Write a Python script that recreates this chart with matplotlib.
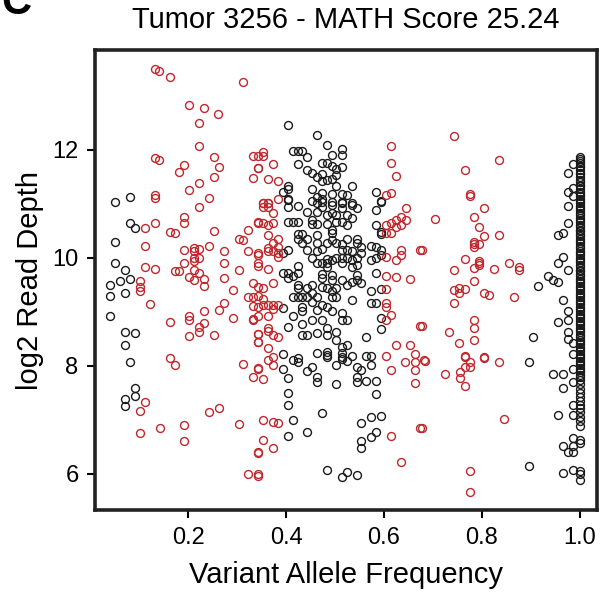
import numpy as np
import matplotlib
matplotlib.use("Agg")
import matplotlib.pyplot as plt

plt.rcParams['font.family'] = ['Liberation Sans', 'DejaVu Sans']

title = "Tumor 3256 - MATH Score 25.24"
x_ticks = [0.2, 0.4, 0.6, 0.8, 1.0]
y_ticks = [6, 8, 10, 12]

# (VAF, log2 depth) -- red points
red_points = [
    (0.133, 13.49), (0.141, 13.46), (0.162, 13.35), (0.312, 13.26), (0.202, 12.84), (0.233, 12.78),
    (0.262, 12.66), (0.222, 12.49), (0.222, 12.08), (0.133, 11.85), (0.141, 11.81), (0.192, 11.73),
    (0.182, 11.59), (0.252, 11.86), (0.263, 11.68), (0.252, 11.49), (0.333, 11.88), (0.342, 11.67),
    (0.333, 11.48), (0.222, 11.39), (0.202, 11.25), (0.242, 11.11), (0.133, 11.17), (0.133, 11.11),
    (0.614, 12.07), (0.614, 11.76), (0.624, 11.52), (0.614, 11.21), (0.604, 11.17), (0.353, 11.96),
    (0.353, 11.89), (0.343, 11.66), (0.373, 11.74), (0.363, 11.46), (0.383, 11.43), (0.383, 11.09),
    (0.353, 11.02), (0.363, 11.02), (0.343, 11.88),
    (0.744, 12.25), (0.835, 11.82), (0.765, 11.62), (0.775, 11.19), (0.775, 11.14),
    (0.133, 10.65), (0.112, 10.55), (0.192, 10.76), (0.192, 10.65), (0.222, 10.95), (0.162, 10.48),
    (0.173, 10.46), (0.252, 10.49), (0.112, 10.22), (0.192, 10.15), (0.212, 10.19), (0.212, 10.13),
    (0.222, 10.17), (0.243, 10.23), (0.212, 9.99), (0.222, 9.99), (0.212, 9.95), (0.192, 9.90),
    (0.112, 9.84), (0.133, 9.79), (0.173, 9.75), (0.182, 9.75), (0.212, 9.77), (0.222, 9.72),
    (0.202, 9.64), (0.212, 9.59), (0.233, 9.61), (0.233, 9.48), (0.101, 9.57), (0.101, 9.46),
    (0.101, 9.38), (0.122, 9.15), (0.273, 10.12), (0.273, 9.90), (0.273, 9.62), (0.303, 10.36),
    (0.312, 10.33), (0.323, 10.52), (0.323, 10.13), (0.303, 9.77), (0.292, 9.40), (0.323, 9.28),
    (0.333, 9.28), (0.333, 9.53), (0.342, 10.67), (0.342, 10.06), (0.342, 9.86), (0.342, 9.09),
    (0.273, 9.16), (0.263, 9.04), (0.233, 9.02), (0.202, 8.93), (0.202, 8.85), (0.162, 8.81),
    (0.233, 8.80), (0.222, 8.72), (0.222, 8.62), (0.202, 8.56), (0.252, 8.58), (0.292, 8.88),
    (0.333, 8.86), (0.342, 8.60), (0.342, 8.45), (0.162, 8.15),
    (0.173, 8.02), (0.112, 7.33), (0.102, 7.17), (0.102, 6.75), (0.142, 6.86), (0.192, 6.91),
    (0.192, 6.61), (0.242, 7.15), (0.263, 7.22), (0.303, 6.92), (0.312, 8.03), (0.342, 7.95),
    (0.333, 7.80), (0.342, 6.41), (0.323, 6.00), (0.342, 6.00),
    (0.363, 8.11), (0.373, 8.02), (0.343, 7.96), (0.353, 7.76), (0.353, 7.00), (0.373, 6.96),
    (0.383, 6.94), (0.353, 6.63), (0.373, 6.49), (0.343, 6.39), (0.343, 5.96), (0.614, 7.93),
    (0.644, 8.07), (0.664, 8.08), (0.664, 7.93), (0.664, 7.69), (0.681, 8.11), (0.674, 6.86),
    (0.614, 6.70), (0.634, 6.22),
    (0.684, 8.10), (0.724, 7.85), (0.755, 7.88), (0.755, 7.77), (0.765, 7.62), (0.765, 7.98),
    (0.775, 8.08), (0.775, 7.98), (0.765, 8.17), (0.805, 8.15), (0.835, 8.07), (0.845, 7.01),
    (0.677, 6.86), (0.775, 6.06), (0.775, 5.66),
    (0.805, 10.93), (0.704, 10.72), (0.784, 10.75), (0.794, 10.58), (0.805, 10.41), (0.835, 10.43),
    (0.784, 10.29), (0.784, 10.25), (0.784, 10.21), (0.794, 10.25), (0.677, 10.15), (0.765, 9.98),
    (0.794, 9.95), (0.794, 9.91), (0.794, 9.87), (0.744, 9.78), (0.784, 9.81), (0.824, 9.80),
    (0.855, 9.90), (0.875, 9.84), (0.875, 9.77), (0.784, 9.58), (0.744, 9.41), (0.754, 9.44),
    (0.754, 9.35), (0.765, 9.42), (0.805, 9.35), (0.815, 9.31), (0.865, 9.27), (0.744, 9.16),
    (0.784, 8.86), (0.784, 8.71), (0.734, 8.63), (0.677, 8.74), (0.754, 8.42), (0.784, 8.48),
    (0.765, 8.19), (0.805, 8.17),
    (0.363, 11.01), (0.363, 10.95), (0.353, 11.01), (0.353, 10.95), (0.373, 10.83), (0.373, 10.64),
    (0.363, 10.61), (0.353, 10.64), (0.343, 10.65), (0.363, 10.43), (0.383, 10.36), (0.373, 10.27),
    (0.383, 10.21), (0.363, 10.18), (0.373, 10.12), (0.363, 10.12), (0.383, 10.09), (0.383, 10.02),
    (0.343, 10.09), (0.343, 9.90), (0.363, 9.79), (0.373, 9.53), (0.343, 9.47), (0.353, 9.44),
    (0.343, 9.30), (0.353, 9.24), (0.333, 9.11), (0.353, 9.13), (0.363, 9.13), (0.373, 9.13),
    (0.383, 9.13), (0.363, 8.93), (0.373, 9.06), (0.343, 8.93), (0.363, 8.70), (0.363, 8.64),
    (0.373, 8.57), (0.383, 8.54), (0.343, 8.59), (0.343, 8.45), (0.363, 8.33), (0.373, 8.17),
    (0.333, 8.87),
    (0.645, 10.93), (0.634, 10.76), (0.645, 10.70), (0.634, 10.61), (0.624, 10.70), (0.614, 10.64),
    (0.604, 10.61), (0.624, 10.58), (0.614, 10.46), (0.604, 10.46), (0.634, 10.15), (0.634, 10.06),
    (0.624, 9.96), (0.604, 10.02), (0.674, 10.15), (0.604, 9.67), (0.624, 9.65), (0.654, 9.61),
    (0.604, 9.42), (0.604, 9.16), (0.604, 9.09), (0.614, 8.94), (0.604, 8.86), (0.674, 8.74),
    (0.624, 8.38), (0.654, 8.39), (0.664, 8.22), (0.604, 8.19),
]

# black points
black_points = [
    (0.051, 11.03), (0.082, 11.12), (0.082, 10.64), (0.092, 10.56), (0.051, 10.30), (0.051, 9.91),
    (0.071, 9.78), (0.061, 9.58), (0.082, 9.61), (0.041, 9.50), (0.071, 9.35), (0.041, 9.30),
    (0.041, 8.93), (0.071, 8.63), (0.092, 8.61), (0.071, 8.39), (0.082, 8.07), (0.092, 7.60),
    (0.092, 7.44), (0.071, 7.39), (0.071, 7.25),
    (0.403, 12.46), (0.463, 12.28), (0.484, 12.09), (0.514, 12.02), (0.514, 11.91), (0.494, 11.91),
    (0.414, 11.98), (0.424, 11.98), (0.433, 11.98), (0.443, 11.86), (0.424, 11.74), (0.473, 11.76),
    (0.484, 11.76), (0.494, 11.71), (0.514, 11.69), (0.503, 11.65), (0.443, 11.63), (0.454, 11.58),
    (0.463, 11.49), (0.473, 11.56), (0.473, 11.43), (0.484, 11.44), (0.494, 11.46), (0.503, 11.54),
    (0.503, 11.33), (0.534, 11.33), (0.403, 11.34), (0.403, 11.27), (0.393, 11.23), (0.454, 11.28),
    (0.473, 11.21), (0.494, 11.19), (0.514, 11.19), (0.524, 11.17), (0.463, 11.12), (0.473, 11.09),
    (0.403, 11.09), (0.584, 11.23), (0.594, 11.06), (0.454, 11.06), (0.494, 11.04), (0.514, 11.04),
    (0.534, 11.01),
    (0.976, 11.57), (0.986, 11.74), (0.976, 11.23), (0.986, 11.29), (0.986, 11.14),
    (0.403, 11.07), (0.424, 10.97), (0.403, 10.94), (0.443, 10.86), (0.463, 11.01), (0.473, 11.04),
    (0.473, 10.95), (0.463, 10.86), (0.494, 10.98), (0.514, 11.01), (0.514, 10.92), (0.534, 10.98),
    (0.544, 10.92), (0.594, 11.04), (0.584, 10.88), (0.494, 10.83), (0.503, 10.80), (0.484, 10.80),
    (0.524, 10.80),
    (0.403, 10.66), (0.414, 10.66), (0.424, 10.66), (0.454, 10.70), (0.454, 10.63), (0.463, 10.63),
    (0.484, 10.63), (0.494, 10.52), (0.494, 10.46), (0.514, 10.66), (0.524, 10.61), (0.534, 10.74),
    (0.503, 10.66), (0.594, 10.48), (0.594, 10.44), (0.584, 10.61),
    (0.424, 10.44), (0.433, 10.44), (0.424, 10.35), (0.443, 10.35), (0.433, 10.27), (0.463, 10.43),
    (0.463, 10.27), (0.484, 10.28), (0.494, 10.33), (0.503, 10.28), (0.514, 10.26), (0.524, 10.36),
    (0.544, 10.35), (0.544, 10.27), (0.554, 10.21), (0.574, 10.23), (0.584, 10.21), (0.594, 10.15),
    (0.403, 10.15), (0.393, 10.09), (0.443, 10.15), (0.463, 10.12), (0.473, 10.16), (0.514, 10.15),
    (0.524, 10.15), (0.534, 10.12), (0.554, 10.09),
    (0.454, 9.99), (0.484, 9.98), (0.484, 9.90), (0.484, 9.84), (0.494, 9.96), (0.503, 9.99),
    (0.514, 9.99), (0.524, 9.99), (0.534, 9.96), (0.544, 9.99), (0.574, 9.96), (0.584, 9.99),
    (0.594, 10.06), (0.424, 9.85), (0.463, 9.90), (0.473, 9.90), (0.514, 9.90), (0.534, 9.84),
    (0.544, 9.87),
    (0.393, 9.73), (0.403, 9.73), (0.403, 9.62), (0.414, 9.67), (0.424, 9.73), (0.473, 9.70),
    (0.473, 9.62), (0.494, 9.69), (0.494, 9.59), (0.514, 9.59), (0.544, 9.69), (0.544, 9.59),
    (0.584, 9.72), (0.534, 9.56), (0.524, 9.50), (0.554, 9.53),
    (0.424, 9.50), (0.424, 9.44), (0.443, 9.44), (0.454, 9.50), (0.473, 9.46), (0.484, 9.44),
    (0.494, 9.38), (0.503, 9.44), (0.574, 9.38), (0.594, 9.42), (0.454, 9.35),
    (0.414, 9.28), (0.424, 9.28), (0.433, 9.28), (0.443, 9.28), (0.463, 9.28), (0.494, 9.27),
    (0.503, 9.28), (0.534, 9.22), (0.433, 9.10), (0.454, 9.19), (0.473, 9.13), (0.484, 9.10),
    (0.574, 9.17), (0.584, 9.17), (0.393, 9.07),
    (0.414, 8.93), (0.433, 9.01), (0.463, 9.04), (0.494, 9.01), (0.514, 8.98), (0.514, 8.86),
    (0.524, 8.86), (0.594, 8.88), (0.594, 8.68), (0.403, 8.73), (0.433, 8.78), (0.454, 8.85),
    (0.473, 8.85), (0.484, 8.70), (0.484, 8.57), (0.463, 8.61), (0.433, 8.57), (0.443, 8.57),
    (0.503, 8.62), (0.503, 8.48), (0.514, 8.36), (0.524, 8.38), (0.564, 8.54), (0.393, 8.22),
    (0.463, 8.24), (0.484, 8.25), (0.484, 8.17), (0.514, 8.24), (0.514, 8.17), (0.534, 8.19),
    (0.564, 8.19), (0.574, 8.19),
    (0.393, 7.94), (0.403, 7.78), (0.403, 7.50), (0.403, 7.27), (0.414, 7.00), (0.403, 6.71),
    (0.443, 6.78), (0.443, 7.91), (0.454, 7.98), (0.463, 7.79), (0.463, 7.71), (0.503, 7.67),
    (0.503, 8.02), (0.514, 8.13), (0.524, 8.10), (0.544, 7.98), (0.554, 7.93), (0.544, 7.79),
    (0.544, 7.71), (0.564, 7.73), (0.584, 7.73), (0.574, 8.02), (0.584, 7.48), (0.473, 7.12),
    (0.554, 6.95), (0.574, 7.06), (0.594, 7.08), (0.584, 6.78), (0.574, 6.69), (0.554, 6.61),
    (0.554, 6.49), (0.484, 6.07), (0.514, 5.94), (0.524, 6.03), (0.544, 5.99), (0.414, 8.11),
    (0.424, 8.14), (0.424, 8.07), (0.484, 8.20),
    (0.896, 8.07), (0.946, 7.85), (0.966, 7.85), (0.966, 7.59), (0.955, 7.10), (0.896, 6.14),
    (0.966, 6.01), (0.966, 6.52), (0.976, 6.41), (0.986, 6.40), (0.986, 6.51), (0.986, 6.66),
    (0.986, 7.09), (0.986, 7.27), (0.986, 7.71), (0.986, 6.07), (0.986, 7.95),
    (0.976, 10.97), (0.976, 10.64), (0.955, 10.43), (0.966, 10.46), (0.966, 10.02), (0.955, 9.90),
    (0.976, 9.77), (0.935, 9.67), (0.946, 9.59), (0.955, 9.56), (0.915, 9.48), (0.966, 9.22),
    (0.976, 9.01), (0.976, 8.86), (0.955, 8.81), (0.905, 8.54), (0.976, 8.62), (0.976, 8.50),
    (0.986, 8.42), (0.986, 8.22),
]

# clonal column at VAF = 1.0 (log2 depth values)
clonal_depth = [
    11.87, 11.84, 11.80, 11.75, 11.71, 11.68, 11.62, 11.58, 11.55, 11.49, 11.45, 11.41, 11.36,
    11.33, 11.27, 11.22, 11.19, 11.15, 11.09, 11.05, 11.01, 10.96, 10.93, 10.88, 10.83, 10.80,
    10.74, 10.70, 10.66, 10.61, 10.57, 10.52, 10.49, 10.44, 10.40, 10.35, 10.31, 10.27, 10.22,
    10.18, 10.13, 10.09, 10.05, 10.00, 9.96, 9.92, 9.87, 9.83, 9.78, 9.75, 9.70, 9.66, 9.61,
    9.57, 9.53, 9.48, 9.44, 9.40, 9.35, 9.31, 9.27, 9.22, 9.18, 9.14, 9.09, 9.05, 9.01, 8.96,
    8.92, 8.88, 8.83, 8.79, 8.75, 8.70, 8.66, 8.62, 8.57, 8.53, 8.49, 8.44, 8.40, 8.36, 8.31,
    8.27, 8.23, 8.18, 8.14, 8.10, 8.05, 8.01, 7.97, 7.92, 7.88, 7.83, 7.79, 7.74, 7.66, 7.58,
    7.50, 7.43, 7.35, 7.28, 7.22, 7.15, 7.06, 6.98, 6.89, 6.63, 6.57, 6.06, 6.00, 5.89,
]

red_col = '#C0272D'
blk_col = '#1a1a1a'

fig = plt.figure(figsize=(6.14, 5.92), dpi=100)
ax = fig.add_axes([0.155, 0.1385, 0.817, 0.777])

bx, by = zip(*black_points)
rx, ry = zip(*red_points)
mk = dict(marker='o', linestyle='none', ms=5.7, mfc='none', mew=1.0)
ax.plot(bx, by, mec=blk_col, **mk)
ax.plot([1.0] * len(clonal_depth), clonal_depth, mec=blk_col, **mk)
ax.plot(rx, ry, mec=red_col, **mk)

ax.set_xlim(0.010, 1.035)
ax.set_ylim(5.333, 13.85)
ax.set_xticks(x_ticks)
ax.set_xticklabels(['0.2', '0.4', '0.6', '0.8', '1.0'])
ax.set_yticks(y_ticks)
ax.tick_params(axis='both', direction='out', length=6, width=1.5, labelsize=17, pad=6)

for s in ax.spines.values():
    s.set_linewidth(2.6)
    s.set_color('#222222')

ax.set_xlabel('Variant Allele Frequency', fontsize=21, labelpad=9)
ax.set_ylabel('log2 Read Depth', fontsize=21, labelpad=6)

fig.text(0.563, 0.966, title, fontsize=21, ha='center', va='center')
fig.text(0.002, 0.995, 'C', fontsize=30, fontweight='bold', ha='left', va='center')

fig.savefig('out.png', dpi=100)
